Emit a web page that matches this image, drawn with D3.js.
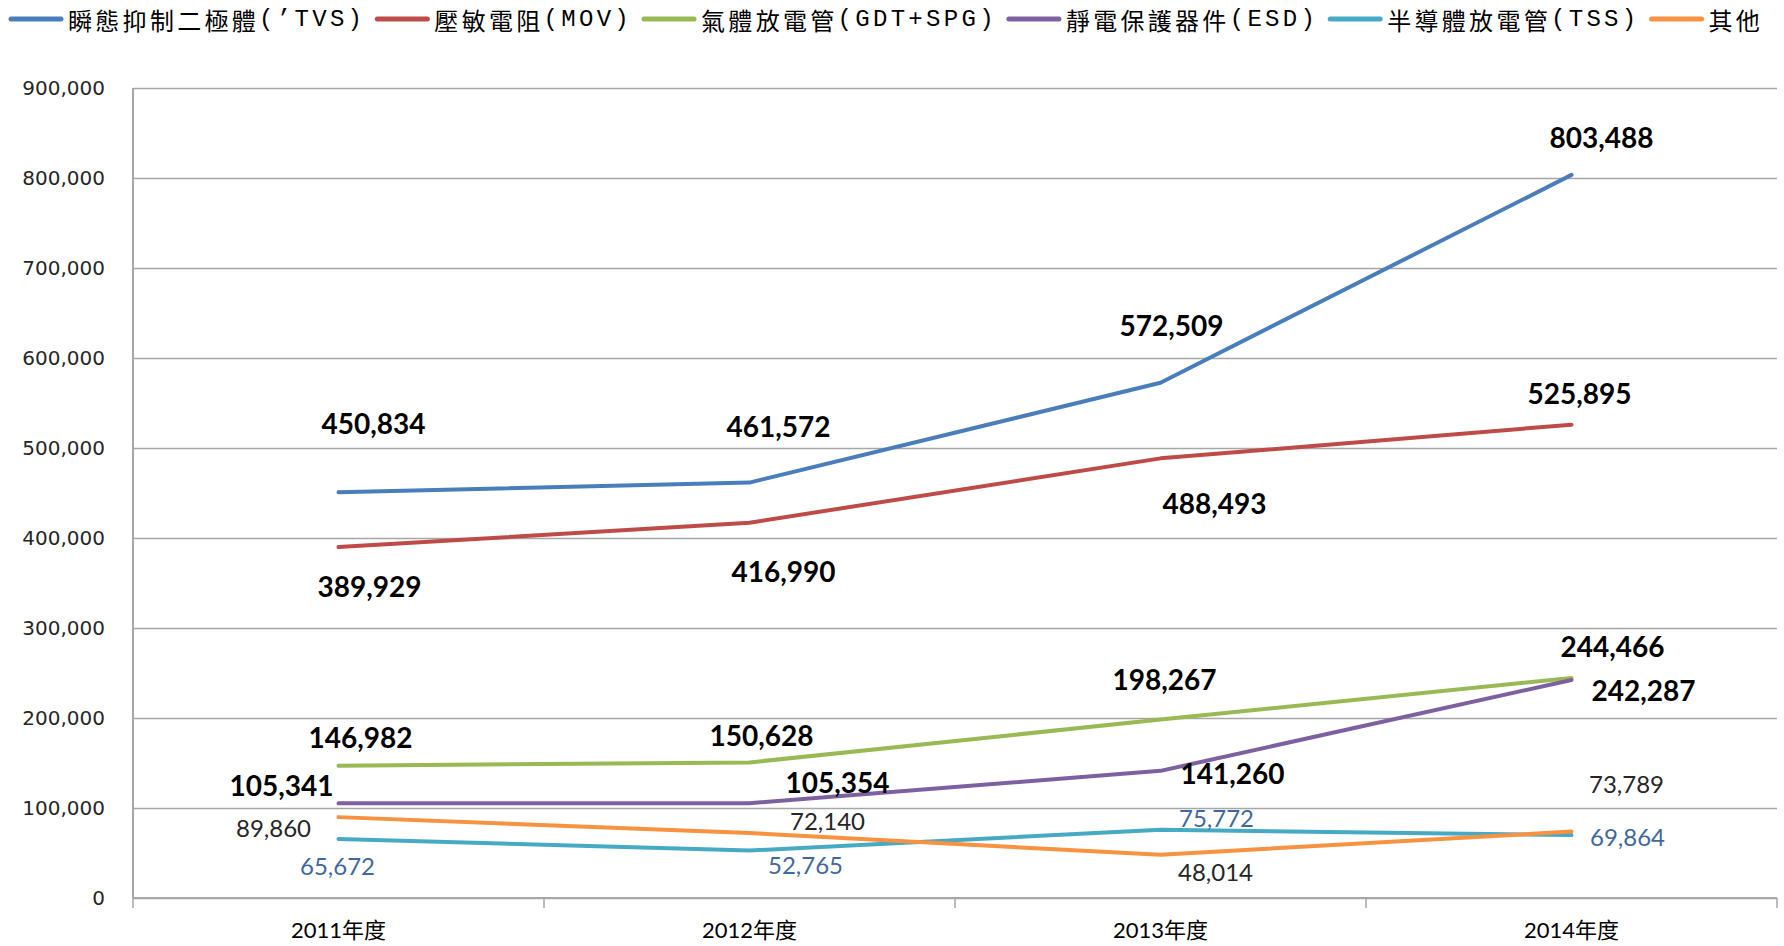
<!DOCTYPE html>
<html>
<head>
<meta charset="utf-8">
<script src="https://cdn.jsdelivr.net/npm/d3@7"></script>
<style>
  html, body { margin: 0; padding: 0; background: #fff; }
</style>
</head>
<body>
<div id="chart-area"></div>
<script>
const categories = ['2011年度', '2012年度', '2013年度', '2014年度'];
const seriesNames = ['瞬態抑制二極體', '壓敏電阻', '氣體放電管', '靜電保護器件', '半導體放電管', '其他'];
const seriesCodes = ['(’TVS)', '(MOV)', '(GDT+SPG)', '(ESD)', '(TSS)', ''];
const tvsValues = [450834, 461572, 572509, 803488];
const movValues = [389929, 416990, 488493, 525895];
const gdtValues = [146982, 150628, 198267, 244466];
const esdValues = [105341, 105354, 141260, 242287];
const tssValues = [65672, 52765, 75772, 69864];
const otherValues = [89860, 72140, 48014, 73789];
const yTicks = [0, 100000, 200000, 300000, 400000, 500000, 600000, 700000, 800000, 900000];

(() => {
  const width = 1784;
  const height = 946;
  const plot = { left: 133, right: 1777, top: 88, bottom: 898 };

  const colors = ['#4A7EBB', '#BE4B48', '#98B954', '#7D60A0', '#46AAC5', '#F69240'];

  // label placement relative to each point, per series
  const labelOffsets = [
    [[35, -69], [29, -57], [11, -58], [30, -38]],
    [[31, 39], [34, 48], [54, 45], [8, -32]],
    [[22, -29], [12, -27], [4, -41], [41, -32]],
    [[-57, -18], [88, -21], [72, 2], [72, 10]],
    [[-1, 27], [56, 14], [56, -12], [56, 1]],
    [[-65, 10], [78, -13], [55, 17], [55, -48]]
  ];
  const labelStyles = [
    { weight: 'bold', size: 28, fill: '#000' },
    { weight: 'bold', size: 28, fill: '#000' },
    { weight: 'bold', size: 28, fill: '#000' },
    { weight: 'bold', size: 28, fill: '#000' },
    { weight: 'normal', size: 24, fill: '#41689C' },
    { weight: 'normal', size: 24, fill: '#262626' }
  ];

  const allValues = [tvsValues, movValues, gdtValues, esdValues, tssValues, otherValues];
  const series = seriesNames.map((name, i) => ({
    name: name,
    code: seriesCodes[i],
    color: colors[i],
    values: allValues[i]
  }));

  const x = d3.scalePoint()
    .domain(categories)
    .range([plot.left, plot.right])
    .padding(0.5);

  const xBand = d3.scaleBand()
    .domain(categories)
    .range([plot.left, plot.right]);

  const y = d3.scaleLinear()
    .domain([0, 900000])
    .range([plot.bottom, plot.top]);

  const svg = d3.select('#chart-area').append('svg')
    .attr('width', width)
    .attr('height', height);

  // gridlines
  svg.append('g')
    .attr('class', 'grid')
    .attr('transform', `translate(${plot.left}, 0)`)
    .call(d3.axisLeft(y).tickValues(yTicks).tickSize(-(plot.right - plot.left)).tickFormat(''))
    .call(g => g.select('.domain').remove())
    .selectAll('line')
      .attr('stroke', '#a6a6a6')
      .attr('stroke-width', 1.3);

  // y tick labels
  svg.append('g')
    .attr('class', 'y axis')
    .attr('transform', `translate(${plot.left}, 0)`)
    .call(d3.axisLeft(y).tickValues(yTicks).tickFormat(d3.format(',')).tickSize(0).tickPadding(28))
    .call(g => g.select('.domain').remove())
    .selectAll('text')
      .attr('font-family', 'DejaVu Sans, Verdana, sans-serif')
      .attr('font-size', '20px')
      .attr('fill', '#262626');

  // y axis line
  svg.append('line')
    .attr('x1', plot.left).attr('x2', plot.left)
    .attr('y1', plot.top).attr('y2', plot.bottom)
    .attr('stroke', '#a6a6a6')
    .attr('stroke-width', 2);

  // x axis line and boundary ticks
  svg.append('line')
    .attr('x1', plot.left).attr('x2', plot.right)
    .attr('y1', plot.bottom).attr('y2', plot.bottom)
    .attr('stroke', '#a6a6a6')
    .attr('stroke-width', 2);

  const bounds = categories.map(c => xBand(c)).concat([xBand(categories[categories.length - 1]) + xBand.bandwidth()]);
  svg.append('g').selectAll('line')
    .data(bounds)
    .enter().append('line')
      .attr('x1', d => d).attr('x2', d => d)
      .attr('y1', plot.bottom).attr('y2', plot.bottom + 10)
      .attr('stroke', '#a6a6a6')
      .attr('stroke-width', 1.5);

  svg.append('g').selectAll('text')
    .data(categories)
    .enter().append('text')
      .attr('x', d => x(d))
      .attr('y', 929)
      .attr('text-anchor', 'middle')
      .attr('dominant-baseline', 'central')
      .attr('font-family', 'Lato, "Noto Sans CJK TC", sans-serif')
      .attr('font-size', '22px')
      .attr('fill', '#000')
      .text(d => d);

  // lines
  const line = d3.line()
    .x((d, i) => x(categories[i]))
    .y(d => y(d));

  svg.append('g').selectAll('path')
    .data(series)
    .enter().append('path')
      .attr('d', d => line(d.values))
      .attr('fill', 'none')
      .attr('stroke', d => d.color)
      .attr('stroke-width', 4)
      .attr('stroke-linejoin', 'round')
      .attr('stroke-linecap', 'round');

  // data labels
  series.forEach((s, si) => {
    const st = labelStyles[si];
    svg.append('g').selectAll('text')
      .data(s.values)
      .enter().append('text')
        .attr('x', (d, i) => x(categories[i]) + labelOffsets[si][i][0])
        .attr('y', (d, i) => y(d) + labelOffsets[si][i][1])
        .attr('text-anchor', 'middle')
        .attr('dominant-baseline', 'central')
        .attr('font-family', 'Lato, sans-serif')
        .attr('font-weight', st.weight)
        .attr('font-size', `${st.size}px`)
        .attr('fill', st.fill)
        .text(d => d3.format(',')(d));
  });

  // legend
  const legend = svg.append('g').attr('class', 'legend');
  let cursor = 9;
  series.forEach(s => {
    const item = legend.append('g');
    item.append('line')
      .attr('x1', cursor + 2).attr('x2', cursor + 52)
      .attr('y1', 19).attr('y2', 19)
      .attr('stroke', s.color)
      .attr('stroke-width', 5)
      .attr('stroke-linecap', 'round');
    const t = item.append('text')
      .attr('x', cursor + 59)
      .attr('y', 19)
      .attr('dominant-baseline', 'central')
      .attr('font-size', '24px')
      .attr('letter-spacing', '3.3px')
      .attr('fill', '#000');
    t.append('tspan')
      .attr('font-family', '"Noto Sans CJK TC", sans-serif')
      .text(s.name);
    if (s.code) {
      t.append('tspan')
        .attr('font-family', '"Liberation Mono", monospace')
        .text(s.code);
    }
    cursor = cursor + 59 + t.node().getComputedTextLength() + 10;
  });
})();
</script>
</body>
</html>
